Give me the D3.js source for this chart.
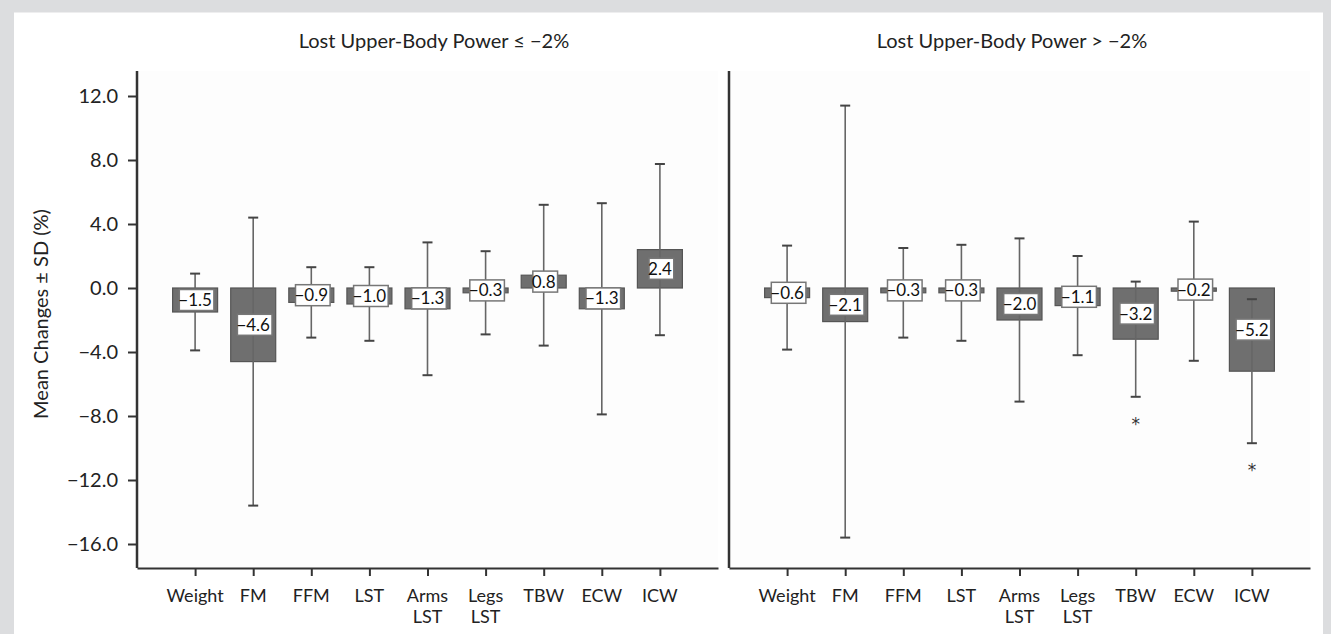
<!DOCTYPE html>
<html>
<head>
<meta charset="utf-8">
<script src="https://cdn.jsdelivr.net/npm/d3@7"></script>
<style>
  body { margin: 0; background: #dcdddf; }
  svg { display: block; font-family: Lato, "Noto Sans", sans-serif; }
</style>
</head>
<body>
<svg id="chart"></svg>
<script>
// categories along the x axis of both panels
let categories = ["Weight", "FM", "FFM", "LST", "Arms LST", "Legs LST", "TBW", "ECW", "ICW"];
// lost upper-body power <= -2%
let lostMean = [-1.5, -4.6, -0.9, -1.0, -1.3, -0.3, 0.8, -1.3, 2.4];
let lostSD = [2.4, 9.0, 2.2, 2.3, 4.15, 2.6, 4.4, 6.6, 5.35];
// lost upper-body power > -2%
let keptMean = [-0.6, -2.1, -0.3, -0.3, -2.0, -1.1, -3.2, -0.2, -5.2];
let keptSD = [3.25, 13.5, 2.8, 3.0, 5.1, 3.1, 3.6, 4.35, 4.5];
let keptSig = [false, false, false, false, false, false, true, false, true];
let yTicks = [12, 8, 4, 0, -4, -8, -12, -16];

let width = 1331, height = 634;
let svg = d3.select("#chart").attr("width", width).attr("height", height);

// white card on the grey page
svg.append("rect").attr("x", 14).attr("y", 12.5).attr("width", 1309).attr("height", 630).attr("fill", "#fff");

let y = d3.scaleLinear().domain([-16, 12]).range([544, 96]);
let yTop = 13.56, yBottom = -17.5;
let fmt = d3.format(".1f");

let panels = [
  { x0: 137, x1: 718, title: "Lost Upper-Body Power ≤ −2%", titleX: 434, mean: lostMean, sd: lostSD, sig: null, axis: true },
  { x0: 729, x1: 1310, title: "Lost Upper-Body Power > −2%", titleX: 1012, mean: keptMean, sd: keptSD, sig: keptSig, axis: false },
];

panels.forEach((p) => {
  let x = d3.scalePoint().domain(categories).range([p.x0, p.x1]).padding(1);
  let g = svg.append("g");
  let barW = 45;

  g.append("rect")
    .attr("x", p.x0).attr("y", y(yTop))
    .attr("width", p.x1 - p.x0).attr("height", y(yBottom) - y(yTop))
    .attr("fill", "#fdfdfd");

  g.append("text")
    .attr("x", p.titleX).attr("y", 47.5)
    .attr("text-anchor", "middle")
    .attr("font-size", 20).attr("fill", "#222")
    .text(p.title);

  let data = categories.map((c, i) => ({ c: c, m: p.mean[i], s: p.sd[i], sig: p.sig ? p.sig[i] : false }));

  // bars
  g.selectAll(".bar").data(data).enter().append("rect")
    .attr("x", (d) => x(d.c) - barW / 2)
    .attr("y", (d) => y(Math.max(0, d.m)))
    .attr("width", barW)
    .attr("height", (d) => Math.abs(y(d.m) - y(0)))
    .attr("fill", "#6f6f6f")
    .attr("stroke", "#555").attr("stroke-width", 1.2);

  // error bars
  data.forEach((d) => {
    let cx = x(d.c);
    g.append("line")
      .attr("x1", cx).attr("x2", cx)
      .attr("y1", y(d.m + d.s)).attr("y2", y(d.m - d.s))
      .attr("stroke", "#666").attr("stroke-width", 1.6);
    [d.m + d.s, d.m - d.s].forEach((v) =>
      g.append("line")
        .attr("x1", cx - 5).attr("x2", cx + 5)
        .attr("y1", y(v)).attr("y2", y(v))
        .attr("stroke", "#444").attr("stroke-width", 2)
    );
  });

  // value labels in white boxes
  data.forEach((d) => {
    let cx = x(d.c), cy = (y(d.m) + y(0)) / 2;
    let box = g.append("rect");
    let t = g.append("text")
      .attr("x", cx).attr("y", cy + 6)
      .attr("text-anchor", "middle")
      .attr("font-size", 17).attr("fill", "#111")
      .text(fmt(d.m));
    let tw = t.node().getComputedTextLength();
    box.attr("x", cx - tw / 2 + 1).attr("y", cy - 10.5)
      .attr("width", tw + 1).attr("height", 21)
      .attr("fill", "#fff").attr("stroke", "#777").attr("stroke-width", 1.5);
    if (d.sig) {
      g.append("text")
        .attr("x", cx).attr("y", y(d.m - d.s) + 33)
        .attr("text-anchor", "middle")
        .attr("font-family", "DejaVu Sans, sans-serif")
        .attr("font-size", 17).attr("fill", "#333")
        .text("*");
    }
  });

  // axes
  let xAxis = g.append("g")
    .attr("transform", "translate(0," + y(yBottom) + ")")
    .call(d3.axisBottom(x).tickSize(8).tickSizeOuter(0).tickFormat(""));
  xAxis.select(".domain").attr("stroke", "#333").attr("stroke-width", 2);
  xAxis.selectAll(".tick line").attr("stroke", "#333").attr("stroke-width", 2);

  categories.forEach((c) => {
    let lines = c.split(" ");
    let t = g.append("text")
      .attr("x", x(c)).attr("y", 601.5)
      .attr("text-anchor", "middle")
      .attr("font-size", 18).attr("fill", "#222");
    lines.forEach((l, k) =>
      t.append("tspan").attr("x", x(c)).attr("dy", k === 0 ? 0 : 21.8).text(l)
    );
  });

  g.append("line")
    .attr("x1", p.x0).attr("x2", p.x0)
    .attr("y1", y(yTop)).attr("y2", y(yBottom))
    .attr("stroke", "#333").attr("stroke-width", 2.5);

  if (p.axis) {
    let yAxis = g.append("g")
      .attr("transform", "translate(" + p.x0 + ",0)")
      .call(d3.axisLeft(y).tickValues(yTicks).tickSize(9).tickPadding(10).tickFormat(fmt));
    yAxis.select(".domain").remove();
    yAxis.selectAll(".tick line").attr("stroke", "#333").attr("stroke-width", 2);
    yAxis.selectAll(".tick text").attr("font-size", 20).attr("fill", "#222").attr("font-family", "Lato, sans-serif");
  }
});

svg.append("text")
  .attr("transform", "translate(48,314) rotate(-90)")
  .attr("text-anchor", "middle")
  .attr("font-size", 20).attr("fill", "#222")
  .text("Mean Changes ± SD (%)");
</script>
</body>
</html>
